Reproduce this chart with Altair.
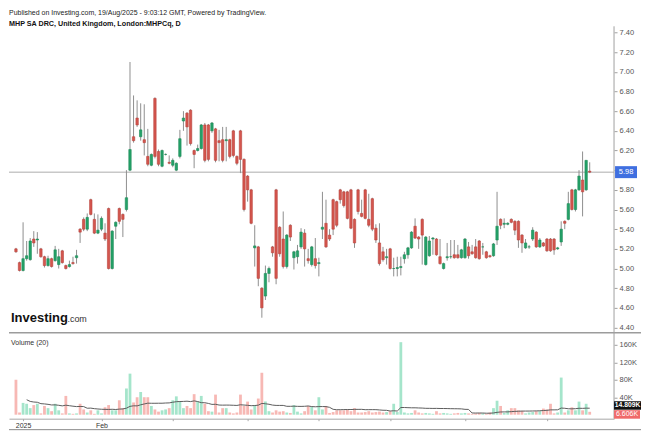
import altair as alt
import pandas as pd

# ---------------- data ----------------
opens = [5.20, 5.06, 4.98, 5.10, 5.09, 5.30, 5.29, 5.20, 5.12, 5.03,
         5.10, 5.08, 5.04, 5.18, 5.03, 5.02, 5.06, 5.11, 5.40, 5.50,
         5.40, 5.70, 5.50, 5.36, 5.40, 5.36, 5.61, 5.00, 5.43, 5.61,
         5.55, 5.60, 6.00, 6.34, 6.53, 6.34, 6.31, 6.14, 6.05, 6.73,
         6.19, 6.04, 6.16, 6.08, 6.05, 6.00, 6.14, 6.50, 6.58, 6.61,
         6.20, 6.20, 6.22, 6.46, 6.46, 6.40, 6.42, 6.30, 6.31, 6.30,
         6.31, 6.40, 6.14, 6.40, 6.11, 5.94, 5.80, 5.21, 5.22, 4.80,
         4.72, 4.95, 5.22, 5.80, 5.42, 5.30, 5.02, 5.44, 5.11, 5.12,
         5.22, 5.36, 5.10, 5.04, 5.10, 5.05, 5.40, 5.46, 5.34, 5.70,
         5.68, 5.80, 5.78, 5.78, 5.80, 5.50, 5.80, 5.56, 5.80, 5.50,
         5.71, 5.41, 5.26, 5.17, 5.11, 5.20, 5.00, 5.00, 5.01, 5.10,
         5.14, 5.21, 5.43, 5.32, 5.50, 5.04, 5.13, 5.30, 5.30, 5.12,
         5.00, 5.11, 5.12, 5.14, 5.14, 5.11, 5.11, 5.22, 5.17, 5.22,
         5.28, 5.22, 5.17, 5.13, 5.13, 5.29, 5.50, 5.45, 5.45, 5.50,
         5.48, 5.48, 5.34, 5.21, 5.22, 5.30, 5.37, 5.22, 5.26, 5.30,
         5.30, 5.30, 5.20, 5.27, 5.48, 5.50, 5.80, 5.60, 5.80, 5.90,
         5.80, 5.99]
highs = [5.21, 5.07, 5.47, 5.28, 5.31, 5.38, 5.37, 5.21, 5.13, 5.13,
         5.11, 5.23, 5.20, 5.19, 5.04, 5.08, 5.12, 5.19, 5.41, 5.52,
         5.56, 5.71, 5.56, 5.55, 5.53, 5.46, 5.62, 5.39, 5.48, 5.62,
         5.56, 6.00, 7.10, 6.76, 6.71, 6.68, 6.67, 6.42, 6.17, 6.74,
         6.21, 6.21, 6.17, 6.15, 6.12, 6.08, 6.41, 6.60, 6.59, 6.62,
         6.21, 6.26, 6.47, 6.48, 6.47, 6.49, 6.43, 6.41, 6.44, 6.44,
         6.32, 6.41, 6.15, 6.41, 6.12, 5.95, 5.81, 5.44, 5.23, 4.81,
         5.03, 5.02, 5.23, 5.81, 5.43, 5.58, 5.35, 5.45, 5.18, 5.24,
         5.41, 5.40, 5.20, 5.23, 5.31, 5.11, 5.78, 5.70, 5.40, 5.71,
         5.69, 5.81, 5.79, 5.79, 5.81, 5.51, 5.81, 5.70, 5.81, 5.76,
         5.72, 5.45, 5.46, 5.22, 5.20, 5.21, 5.11, 5.12, 5.12, 5.17,
         5.22, 5.38, 5.51, 5.33, 5.51, 5.33, 5.33, 5.32, 5.31, 5.30,
         5.06, 5.26, 5.29, 5.29, 5.24, 5.20, 5.31, 5.27, 5.24, 5.30,
         5.29, 5.26, 5.18, 5.14, 5.26, 5.78, 5.51, 5.51, 5.47, 5.51,
         5.49, 5.49, 5.35, 5.30, 5.24, 5.42, 5.38, 5.31, 5.27, 5.31,
         5.31, 5.31, 5.22, 5.48, 5.49, 5.78, 5.81, 5.81, 6.00, 6.19,
         6.10, 6.08]
lows = [5.16, 4.97, 4.97, 5.08, 5.08, 5.22, 5.15, 5.11, 5.01, 5.02,
        5.01, 5.07, 5.00, 5.05, 4.99, 5.01, 5.04, 5.05, 5.26, 5.38,
        5.38, 5.54, 5.35, 5.35, 5.38, 5.28, 4.99, 4.99, 5.30, 5.45,
        5.32, 5.58, 5.99, 6.28, 6.44, 6.30, 6.15, 6.04, 6.04, 6.12,
        6.04, 6.03, 6.15, 6.06, 6.03, 5.99, 6.12, 6.40, 6.25, 6.25,
        6.02, 6.19, 6.21, 6.08, 6.09, 6.38, 6.08, 6.09, 6.08, 6.09,
        6.12, 6.13, 6.05, 5.97, 5.58, 5.68, 5.45, 5.02, 4.82, 4.50,
        4.68, 4.86, 5.12, 4.84, 5.12, 5.00, 5.00, 5.28, 4.99, 5.05,
        5.20, 5.02, 5.05, 5.02, 5.00, 4.92, 5.30, 5.21, 5.28, 5.34,
        5.42, 5.66, 5.62, 5.50, 5.40, 5.21, 5.55, 5.52, 5.50, 5.42,
        5.38, 5.26, 5.03, 5.07, 5.04, 4.99, 4.92, 4.92, 4.93, 5.05,
        5.10, 5.20, 5.30, 5.20, 5.04, 5.03, 5.12, 5.14, 5.13, 5.04,
        4.99, 5.08, 5.10, 5.10, 5.10, 5.10, 5.10, 5.10, 5.14, 5.10,
        5.09, 5.14, 5.10, 5.11, 5.12, 5.24, 5.40, 5.41, 5.44, 5.46,
        5.34, 5.21, 5.16, 5.20, 5.20, 5.28, 5.21, 5.21, 5.22, 5.17,
        5.17, 5.14, 5.19, 5.23, 5.40, 5.49, 5.59, 5.58, 5.79, 5.53,
        5.79, 5.97]
closes = [5.17, 4.98, 5.10, 5.13, 5.28, 5.26, 5.30, 5.12, 5.03, 5.10,
          5.02, 5.19, 5.12, 5.06, 5.00, 5.04, 5.05, 5.13, 5.37, 5.40,
          5.52, 5.55, 5.36, 5.39, 5.51, 5.30, 5.00, 5.38, 5.47, 5.48,
          5.50, 5.72, 6.21, 6.30, 6.46, 6.41, 6.28, 6.06, 6.16, 6.14,
          6.06, 6.20, 6.16, 6.07, 6.10, 6.07, 6.32, 6.53, 6.44, 6.27,
          6.16, 6.22, 6.46, 6.10, 6.11, 6.48, 6.10, 6.28, 6.10, 6.31,
          6.14, 6.15, 6.07, 6.11, 5.60, 5.80, 5.46, 5.23, 4.90, 4.60,
          4.95, 5.00, 5.16, 4.90, 5.15, 5.02, 5.34, 5.32, 5.17, 5.18,
          5.37, 5.20, 5.08, 5.22, 5.03, 5.06, 5.42, 5.22, 5.30, 5.40,
          5.44, 5.70, 5.64, 5.51, 5.41, 5.26, 5.58, 5.53, 5.51, 5.44,
          5.40, 5.29, 5.05, 5.09, 5.12, 5.00, 5.00, 5.01, 5.02, 5.14,
          5.21, 5.37, 5.31, 5.30, 5.34, 5.32, 5.28, 5.31, 5.14, 5.05,
          5.05, 5.12, 5.12, 5.11, 5.11, 5.19, 5.30, 5.13, 5.15, 5.11,
          5.10, 5.22, 5.11, 5.12, 5.25, 5.43, 5.44, 5.46, 5.46, 5.47,
          5.39, 5.29, 5.26, 5.26, 5.22, 5.39, 5.22, 5.29, 5.23, 5.18,
          5.18, 5.19, 5.21, 5.40, 5.46, 5.66, 5.60, 5.80, 5.94, 5.78,
          6.10, 5.98]
volumes_k = [80, 5, 27, 25, 15, 22, 25, 3, 20, 15,
             8, 25, 10, 3, 43, 3, 2, 3, 25, 12,
             5, 10, 2, 10, 3, 17, 22, 10, 10, 33,
             15, 60, 94, 28, 40, 52, 40, 40, 20, 12,
             7, 10, 12, 15, 33, 42, 30, 15, 20, 15,
             47, 30, 43, 25, 8, 7, 46, 5, 15, 15,
             5, 3, 5, 46, 20, 30, 12, 22, 37, 96,
             30, 8, 5, 10, 7, 8, 5, 4, 22, 7,
             3, 8, 20, 18, 10, 40, 12, 20, 4, 6,
             10, 10, 10, 12, 8, 15, 5, 5, 6, 8,
             5, 6, 7, 5, 6, 8, 25, 6, 166, 5,
             3, 4, 10, 5, 3, 4, 3, 2, 8, 3,
             4, 3, 2, 3, 4, 3, 4, 3, 2, 3,
             4, 3, 2, 5, 15, 32, 20, 4, 10, 15,
             15, 10, 8.58, 3, 5, 6, 8, 8, 14, 12,
             25, 3, 5, 85, 5, 10, 17, 10, 30, 10,
             25, 6.606]

x_tick_index = [2, 24, 44, 65, 85, 105, 126, 149]
x_tick_text = ["2025", "Feb", "", "", "", "", "", ""]
price_ticks = [4.4, 4.6, 4.8, 5.0, 5.2, 5.4, 5.6, 5.8, 6.0, 6.2, 6.4,
               6.6, 6.8, 7.0, 7.2, 7.4]
volume_ticks_k = [40, 80, 120, 160]

title_line1 = "Published on Investing.com, 19/Aug/2025 - 9:03:12 GMT, Powered by TradingView."
title_line2 = "MHP SA DRC, United Kingdom, London:MHPCq, D"

# ---------------- geometry / styling ----------------
N = len(closes)
W, H = 606, 411
RIGHT_EDGE = 633
FONT = "Liberation Sans"
GREEN, RED, WICK = "#24a268", "#d4564e", "#8f8f8f"
VGREEN, VRED = "#a5e5cb", "#f7b8b4"

first_px, last_px = 2.0, 586.3
step = (last_px - first_px) / (N - 1)
x_dom = [-first_px / step, (W - first_px) / step]

p_px_per_unit, p_base_px = 98.5, 319.7           # 4.40 sits at y=319.7
p_dom = [4.4 - (H - p_base_px) / p_px_per_unit, 4.4 + p_base_px / p_px_per_unit]
v_zero_px, v_px_per_40k = 407.0, 17.5
v_dom = [-(H - v_zero_px) * 40000 / v_px_per_40k, v_zero_px * 40000 / v_px_per_40k]

df = pd.DataFrame({
    "i": list(range(N)), "open": opens, "high": highs, "low": lows,
    "close": closes, "volume": [v * 1000 for v in volumes_k],
})
one = pd.DataFrame({"k": [0]})

last_close = closes[-1]
last_vol = volumes_k[-1] * 1000
ma_last = sum(volumes_k[-20:]) / 20 * 1000

label_expr = "".join(
    f"datum.value == {v} ? '{t}' : " for v, t in zip(x_tick_index, x_tick_text)) + "''"

x_axis = alt.Axis(values=x_tick_index, labelExpr=label_expr, title=None, grid=False,
                  domainColor="#a8a8a8", tickColor="#a8a8a8", tickSize=2,
                  labelFontSize=7, labelColor="#333333", labelFont=FONT, labelPadding=0.5)
xenc = alt.X("i:Q", scale=alt.Scale(domain=x_dom, nice=False, zero=False), axis=x_axis)

p_scale = alt.Scale(domain=p_dom, nice=False, zero=False)
v_scale = alt.Scale(domain=v_dom, nice=False, zero=False)

p_axis = alt.Axis(orient="right", values=price_ticks, format=".2f", title=None, grid=False,
                  domain=False, tickSize=3, tickColor="#a0a0a0", labelFontSize=7.5,
                  labelColor="#555555", labelFont=FONT, labelPadding=2)
v_axis = alt.Axis(orient="right", values=[v * 1000 for v in volume_ticks_k],
                  labelExpr="format(datum.value / 1000, 'd') + 'K'", title=None, grid=False,
                  domain=False, tickSize=3, tickColor="#a0a0a0", labelFontSize=7.5,
                  labelColor="#555555", labelFont=FONT, labelPadding=2)

up = "datum.close >= datum.open"

price_line = alt.Chart(one).mark_rule(color="#c8c8c8", strokeWidth=1.5).encode(
    y=alt.YDatum(last_close, scale=p_scale, axis=None))

vol_bars = alt.Chart(df).mark_bar(size=2.8).encode(
    x=xenc,
    y=alt.Y("volume:Q", scale=v_scale, axis=v_axis),
    y2=alt.Y2Datum(0),
    color=alt.condition(up, alt.value(VGREEN), alt.value(VRED)),
)

ma_line = alt.Chart(df).transform_window(
    ma="mean(volume)", frame=[-19, 0], sort=[alt.SortField("i")]
).transform_filter("datum.i >= 3").mark_line(color="#5c5c5c", strokeWidth=1).encode(
    x=xenc, y=alt.Y("ma:Q", scale=v_scale, axis=None))

wicks = alt.Chart(df).mark_rule(color=WICK, strokeWidth=1).encode(
    x=xenc, y=alt.Y("low:Q", scale=p_scale, axis=p_axis), y2="high:Q")

bodies = alt.Chart(df).mark_bar(size=2.4, strokeWidth=0.6).encode(
    x=xenc,
    y=alt.Y("open:Q", scale=p_scale, axis=None), y2="close:Q",
    color=alt.condition(up, alt.value(GREEN), alt.value(RED)),
    stroke=alt.condition(up, alt.value("#1d8a58"), alt.value("#b8423b")),
)

sep = alt.Chart(one).mark_rule(color="#9c9c9c", strokeWidth=1.5).encode(
    x=alt.value(0), x2=alt.value(RIGHT_EDGE), y=alt.value(325))
right_line = alt.Chart(one).mark_rule(color="#a0a0a0", strokeWidth=1).encode(
    x=alt.value(W), y=alt.value(18), y2=alt.value(H))
bottom_line = alt.Chart(one).mark_rule(color="#8a8a8a", strokeWidth=1).encode(
    x=alt.value(0), x2=alt.value(RIGHT_EDGE), y=alt.value(422))

price_box = alt.Chart(one).mark_rect(color="#3f6fe0", yOffset=-6, y2Offset=6).encode(
    x=alt.value(W + 1), x2=alt.value(W + 23),
    y=alt.YDatum(last_close, scale=p_scale, axis=None), y2=alt.Y2Datum(last_close))
price_txt = alt.Chart(one).mark_text(color="white", fontSize=7.5, font=FONT,
                                     align="center", baseline="middle").encode(
    x=alt.value(W + 12), y=alt.YDatum(last_close, scale=p_scale, axis=None),
    text=alt.value(f"{last_close:.2f}"))

ma_box = alt.Chart(one).mark_rect(color="#111111", yOffset=-7, y2Offset=1.5).encode(
    x=alt.value(W), x2=alt.value(RIGHT_EDGE),
    y=alt.YDatum(ma_last, scale=v_scale, axis=None), y2=alt.Y2Datum(ma_last))
ma_txt = alt.Chart(one).mark_text(color="white", fontSize=6.8, fontWeight="bold", font=FONT,
                                  align="center", baseline="middle", dy=-2.75).encode(
    x=alt.value((W + RIGHT_EDGE) / 2), y=alt.YDatum(ma_last, scale=v_scale, axis=None),
    text=alt.value(f"{ma_last / 1000:.3f}K"))

vol_box = alt.Chart(one).mark_rect(color="#f06a6a", yOffset=-1.6, y2Offset=6.9).encode(
    x=alt.value(W), x2=alt.value(W + 26),
    y=alt.YDatum(last_vol, scale=v_scale, axis=None), y2=alt.Y2Datum(last_vol))
vol_txt = alt.Chart(one).mark_text(color="white", fontSize=7, font=FONT,
                                   align="center", baseline="middle", dy=2.65).encode(
    x=alt.value(W + 13), y=alt.YDatum(last_vol, scale=v_scale, axis=None),
    text=alt.value(f"{volumes_k[-1]:.3f}K"))

t1 = alt.Chart(one).mark_text(align="left", baseline="alphabetic", font=FONT, fontSize=7,
                              color="#222222").encode(
    x=alt.value(0), y=alt.value(6.5), text=alt.value(title_line1))
t2 = alt.Chart(one).mark_text(align="left", baseline="alphabetic", font=FONT, fontSize=7.2,
                              fontWeight="bold", color="#111111").encode(
    x=alt.value(0), y=alt.value(17.5), text=alt.value(title_line2))
logo1 = alt.Chart(one).mark_text(align="left", baseline="alphabetic", font=FONT, fontSize=13,
                                 fontWeight="bold", color="#111111").encode(
    x=alt.value(2), y=alt.value(314.5), text=alt.value("Investing"))
logo2 = alt.Chart(one).mark_text(align="left", baseline="alphabetic", font=FONT, fontSize=9,
                                 color="#333333").encode(
    x=alt.value(58.5), y=alt.value(314.5), text=alt.value(".com"))
vol_title = alt.Chart(one).mark_text(align="left", baseline="alphabetic", font=FONT,
                                     fontSize=7, color="#333333").encode(
    x=alt.value(2), y=alt.value(337.5), text=alt.value("Volume (20)"))

chart = alt.layer(
    price_line, vol_bars, ma_line, wicks, bodies, sep, right_line, bottom_line,
    price_box, price_txt, ma_box, ma_txt, vol_box, vol_txt,
    t1, t2, logo1, logo2, vol_title,
).resolve_scale(y="independent").properties(
    width=W, height=H, padding=0, background="white"
).configure_view(stroke=None)

chart.save("out.html", embed_options={"renderer": "svg", "actions": False})
